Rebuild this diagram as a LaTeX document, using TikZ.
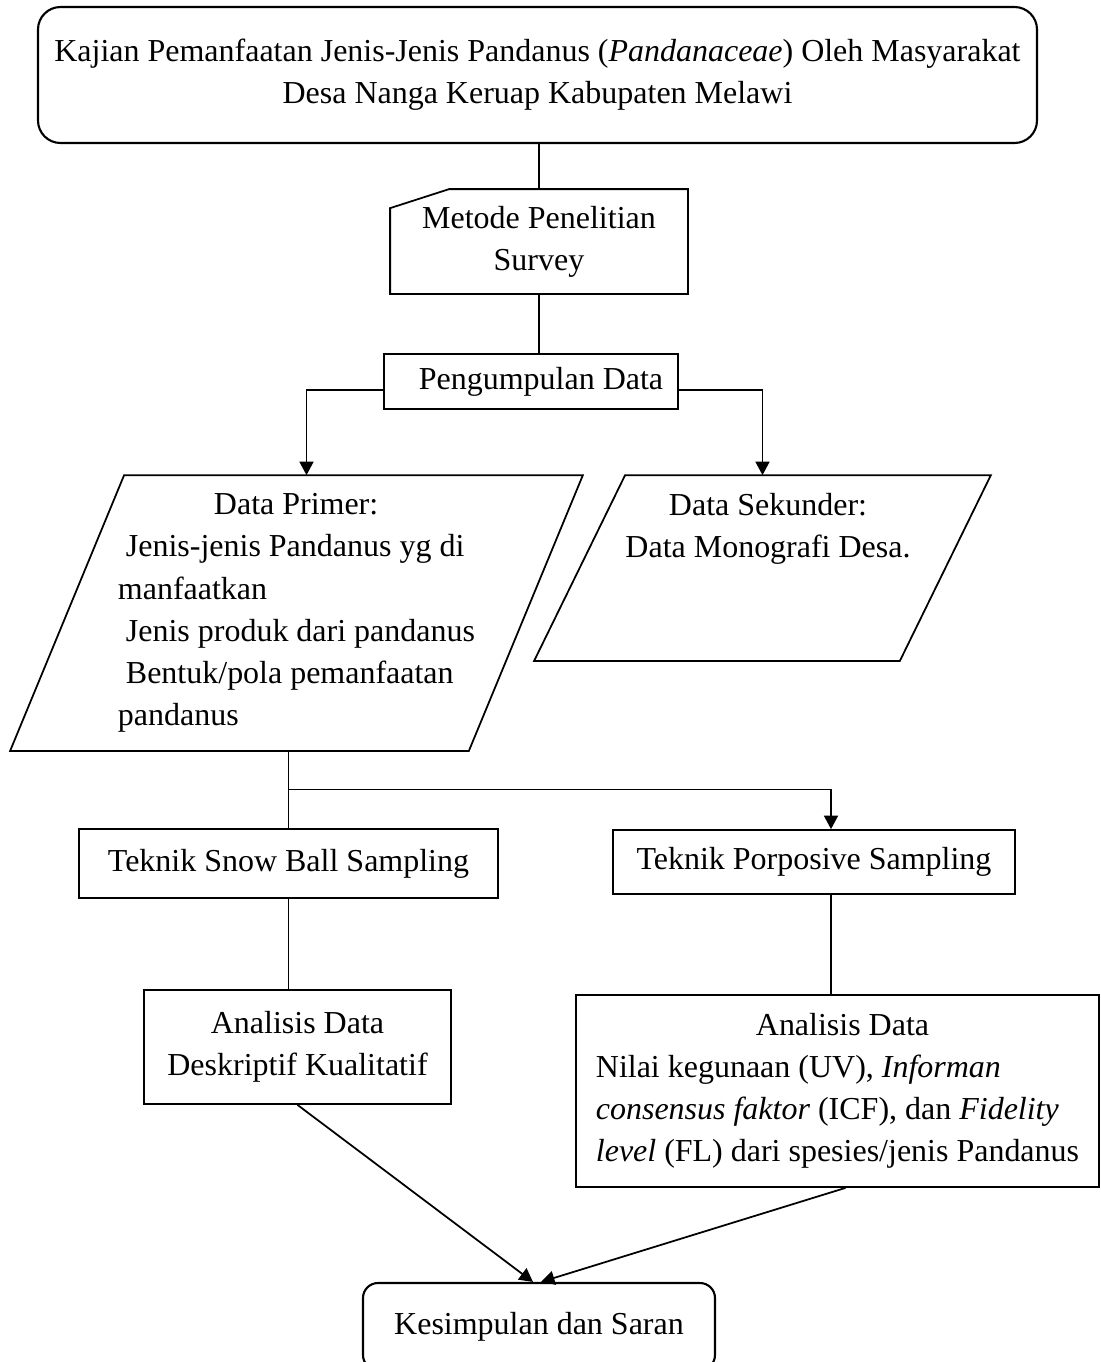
\documentclass[tikz,border=0pt]{standalone}
\usepackage{fontspec}
\setmainfont{Liberation Serif}
\usetikzlibrary{arrows.meta}
\begin{document}
\begin{tikzpicture}[
  every node/.style={font=\fontsize{18.2}{24}\selectfont, inner sep=0pt},
  kotak/.style={draw, line width=1pt, align=center},
  bulat/.style={kotak, rounded corners=0.45cm, line width=1.2pt},
  garis/.style={line width=1pt},
  panah/.style={garis, -{Triangle[length=0.27cm, width=0.28cm]}}
]
\useasboundingbox (0,0) rectangle (22.02,-27.24);
\clip (0,0) rectangle (22.02,-27.24);

\node[bulat, minimum width=19.98cm, minimum height=2.72cm] (judul) at (10.75,-1.5)
  {Kajian Pemanfaatan Jenis-Jenis Pandanus (\textit{Pandanaceae}) Oleh Masyarakat\\Desa Nanga Keruap Kabupaten Melawi};
\node[kotak, draw=none, minimum width=5.92cm, minimum height=2.06cm] (metode) at (10.78,-4.83) {Metode Penelitian\\Survey};
\draw[garis] ([yshift=-0.38cm]metode.north west) -- ([xshift=1.18cm]metode.north west) -- (metode.north east)
  -- (metode.south east) -- (metode.south west) -- cycle;
\node[kotak, minimum width=5.88cm, minimum height=1.1cm] (kumpul) at (10.62,-7.63) {\hspace*{0.4cm}Pengumpulan Data};

\node[kotak, draw=none, minimum width=11.42cm, minimum height=5.48cm, align=left] (primer) at (5.93,-12.26)
  {\hspace*{1.92cm}Data Primer:\\ \hspace*{0.16cm}Jenis-jenis Pandanus yg di\\ manfaatkan\\ \hspace*{0.16cm}Jenis produk dari pandanus\\ \hspace*{0.16cm}Bentuk/pola pemanfaatan\\ pandanus};
\draw[garis] ([xshift=2.28cm]primer.north west) -- (primer.north east) -- ([xshift=-2.28cm]primer.south east)
  -- (primer.south west) -- cycle;
\node[kotak, draw=none, minimum width=9.1cm, minimum height=3.68cm] (sekunder) at (15.25,-11.36) {};
\draw[garis] ([xshift=1.82cm]sekunder.north west) -- (sekunder.north east) -- ([xshift=-1.82cm]sekunder.south east)
  -- (sekunder.south west) -- cycle;
\node[align=center] (sektxt) at (15.36,-10.58) {Data Sekunder:\\Data Monografi Desa.};

\node[kotak, minimum width=8.38cm, minimum height=1.38cm] (snow) at (5.77,-17.27) {Teknik Snow Ball Sampling};
\node[kotak, minimum width=8.04cm, minimum height=1.28cm] (porpos) at (16.28,-17.24) {Teknik Porposive Sampling};
\node[kotak, minimum width=6.14cm, minimum height=2.28cm] (analkual) at (5.95,-20.94) {Analisis Data\\Deskriptif Kualitatif};
\node[kotak, minimum width=10.46cm, minimum height=3.84cm, align=left] (analkuan) at (16.75,-21.82)
  {\hspace*{3.2cm}Analisis Data\\ Nilai kegunaan (UV), \textit{Informan}\\ \textit{consensus faktor} (ICF), dan \textit{Fidelity}\\ \textit{level} (FL) dari spesies/jenis Pandanus};
\node[bulat, minimum width=7.04cm, minimum height=1.74cm, rounded corners=0.3cm] (simpul) at (10.78,-26.53) {Kesimpulan dan Saran};

% alur
\draw[garis] (metode.north |- judul.south) -- (metode.north);
\draw[garis] (metode.south) -- (metode.south |- kumpul.north);
\draw[panah] ([yshift=-0.17cm]kumpul.west) -| ([xshift=0.2cm]primer.north);
\draw[panah] ([yshift=-0.17cm]kumpul.east) -| (sekunder.north);
\draw[garis] (snow.north |- primer.south) -- coordinate[midway] (cabang) (snow.north);
\draw[panah] (cabang) -| ([xshift=0.34cm]porpos.north);
\draw[garis] (snow.south) -- (snow.south |- analkual.north);
\draw[garis] ([xshift=0.34cm]porpos.south) -- ([xshift=0.34cm]porpos.south |- analkuan.north);
\draw[panah] (analkual.south) -- ([xshift=-0.12cm]simpul.north);
\draw[panah] ([xshift=0.16cm]analkuan.south) -- ([xshift=0.04cm]simpul.north);
\end{tikzpicture}
\end{document}
